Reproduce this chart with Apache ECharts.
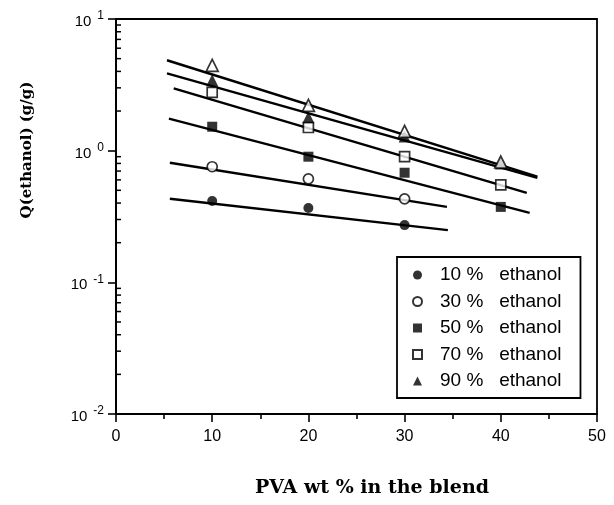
<!DOCTYPE html>
<html>
<head>
<meta charset="utf-8">
<script src="https://cdn.jsdelivr.net/npm/echarts@6/dist/echarts.min.js"></script>
<style>
  html, body { margin: 0; padding: 0; background: #fff; }
  #chart { width: 614px; height: 505px; }
</style>
</head>
<body>
<div id="chart"></div>
<script>
// PVA content of the blend (wt %)
const pvaWt = [10, 20, 30, 40];

// Ethanol uptake Q (g/g) at each PVA content
const q10 = [0.415, 0.367, 0.272];
const q30 = [0.755, 0.61, 0.43];
const q50 = [1.52, 0.90, 0.68, 0.374];
const q70 = [2.77, 1.50, 0.90, 0.55];
const q90 = [3.42, 1.79, 1.28, 0.80];
const qOpen = [4.45, 2.21, 1.40, 0.82];

// End points of the fitted straight lines (semi-log)
const fit10 = [[5.6, 0.431], [34.5, 0.249]];
const fit30 = [[5.6, 0.809], [34.4, 0.374]];
const fit50 = [[5.5, 1.75], [43.0, 0.337]];
const fit70 = [[6.0, 2.97], [42.7, 0.478]];
const fit90 = [[5.3, 3.87], [43.8, 0.622]];
const fitOpen = [[5.3, 4.86], [43.8, 0.634]];

// Axis tick values
const xTicks = [0, 10, 20, 30, 40, 50];
const yDecades = [0.01, 0.1, 1, 10];

const names = ['10 %   ethanol', '30 %   ethanol', '50 %   ethanol', '70 %   ethanol', '90 %   ethanol'];

// minor tick positions 2..9 × 10^k on the log axis
const yMinor = [];
for (let e = -2; e <= 0; e++) {
  for (let k = 2; k <= 9; k++) yMinor.push([0, k * Math.pow(10, e)]);
}

const pairs = (ys) => ys.map((y, i) => [pvaWt[i], y]);

const ink = '#000';
const sansFont = '"Liberation Sans", Arial, sans-serif';
const serifFont = '"DejaVu Serif", "Liberation Serif", serif';

function fitLine(pts) {
  return {
    type: 'line', data: pts, symbol: 'none', silent: true,
    lineStyle: { color: ink, width: 2.4 }, z: 2
  };
}

function marks(name, ys, symbol, size, filled) {
  return {
    name: name, type: 'scatter', data: pairs(ys), symbol: symbol, symbolSize: size,
    itemStyle: filled
      ? { color: ink, borderColor: ink, borderWidth: 0 }
      : { color: '#fff', borderColor: ink, borderWidth: 1.7 },
    z: 4
  };
}

const chart = echarts.init(document.getElementById('chart'), null, { renderer: 'canvas' });

chart.setOption({
  animation: false,
  backgroundColor: '#fff',
  grid: {
    left: 116, right: 17, top: 19, bottom: 91,
    show: true, borderColor: ink, borderWidth: 1.8, backgroundColor: 'transparent'
  },
  xAxis: {
    type: 'value', min: 0, max: 50, interval: 10,
    axisLine: { lineStyle: { color: ink, width: 2 } },
    axisTick: { show: true, inside: false, length: 8, lineStyle: { color: ink, width: 1.6 } },
    minorTick: { show: true, splitNumber: 2, length: 5, lineStyle: { color: ink, width: 1.6 } },
    splitLine: { show: false },
    axisLabel: {
      color: ink, fontSize: 16, fontFamily: sansFont, margin: 15,
      formatter: (v) => xTicks.includes(v) ? String(v) : ''
    }
  },
  yAxis: {
    type: 'log', logBase: 10, min: 0.01, max: 10,
    axisLine: { lineStyle: { color: ink, width: 2 } },
    axisTick: { show: true, inside: false, length: 8, lineStyle: { color: ink, width: 1.6 } },
    splitLine: { show: false },
    axisLabel: {
      color: ink, margin: 12,
      formatter: (v) => yDecades.some(d => Math.abs(d - v) / d < 1e-6)
        ? '{b|10}{e|' + Math.round(Math.log10(v)) + '}' : '',
      rich: {
        b: { fontSize: 15, fontFamily: sansFont, color: ink, padding: [6, 0, 0, 0] },
        e: { fontSize: 12, fontFamily: sansFont, color: ink, padding: [0, 0, 6, 6] }
      }
    }
  },
  legend: {
    data: names.map((n) => ({ name: n })),
    orient: 'vertical', left: 397, top: 257,
    itemWidth: 9, itemHeight: 9, itemGap: 6.5,
    padding: [8, 19, 7, 15],
    borderColor: ink, borderWidth: 1.8, borderRadius: 0,
    backgroundColor: '#fff',
    textStyle: { color: ink, fontSize: 19, lineHeight: 20, fontFamily: sansFont, padding: [0, 0, 0, 13] },
    selectedMode: false
  },
  graphic: [
    {
      type: 'text', x: 372, y: 488,
      style: {
        text: 'PVA wt % in the blend', fill: ink,
        font: 'bold 19px ' + serifFont, textAlign: 'center', textVerticalAlign: 'middle'
      }
    },
    {
      type: 'text', x: 27, y: 150, rotation: Math.PI / 2,
      style: {
        text: 'Q(ethanol) (g/g)', fill: ink,
        font: 'bold 15px ' + serifFont, textAlign: 'center', textVerticalAlign: 'middle'
      }
    }
  ],
  series: [
    fitLine(fit10), fitLine(fit30), fitLine(fit50),
    fitLine(fit70), fitLine(fit90), fitLine(fitOpen),
    marks(names[0], q10, 'circle', 10, true),
    marks(names[1], q30, 'circle', 10, false),
    marks(names[2], q50, 'rect', 10, true),
    marks(names[3], q70, 'rect', 10, false),
    marks(names[4], q90, 'triangle', 12, true),
    marks('△', qOpen, 'triangle', 12, false),
    {
      type: 'custom', data: yMinor, silent: true, clip: false, z: 3,
      encode: { x: 0, y: 1 },
      renderItem: (params, api) => {
        const p = api.coord([0, api.value(1)]);
        return {
          type: 'line',
          shape: { x1: p[0], y1: p[1], x2: p[0] + 5, y2: p[1] },
          style: { stroke: ink, lineWidth: 1.5 }
        };
      }
    }
  ]
});
</script>
</body>
</html>
